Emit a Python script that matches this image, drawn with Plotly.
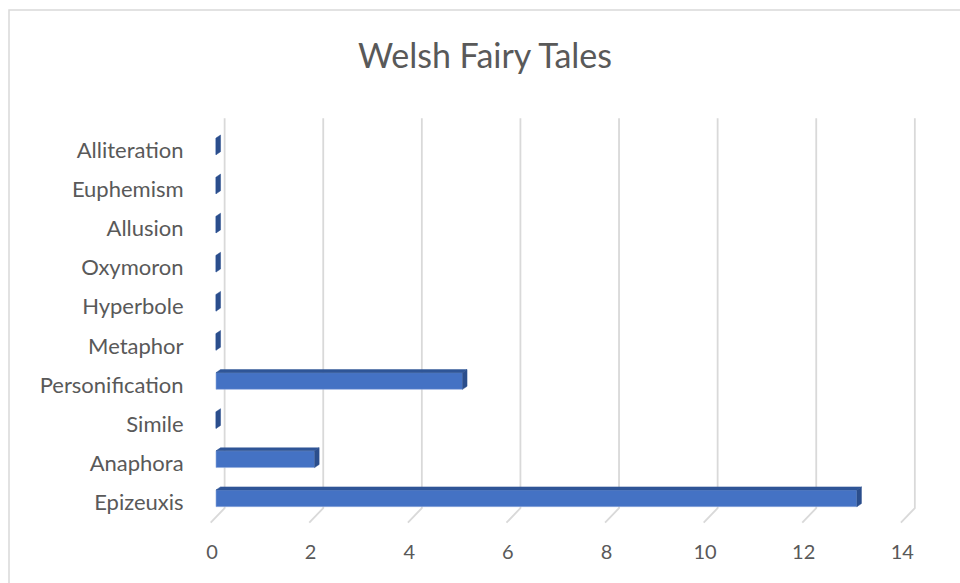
import plotly.graph_objects as go

# ---- data ----
categories = ["Epizeuxis", "Anaphora", "Simile", "Personification", "Metaphor",
              "Hyperbole", "Oxymoron", "Allusion", "Euphemism", "Alliteration"]
values = [13, 2, 0, 5, 0, 0, 0, 0, 0, 0]
x_ticks = [0, 2, 4, 6, 8, 10, 12, 14]
title_text = "Welsh Fairy Tales"

# ---- style / geometry ----
FRONT = "#4472C4"
TOP = "#2F5597"
SIDE = "#2B4E8C"
GRID = "#D9D9D9"
TEXT = "#595959"
FONT = "Lato, 'Open Sans', sans-serif"

bar_w = 0.427      # bar thickness in category units
ddx = 0.092        # depth offset along value axis
ddy = 0.078        # depth offset along category axis
back_off = 0.175   # back-wall gridline offset
front_off = -0.108 # front edge of floor
grid_top = 9.72
grid_bot = -0.25
floor_front = -0.625

ypos = list(range(len(categories)))

fig = go.Figure()

# front faces
fig.add_trace(go.Bar(x=values, y=ypos, orientation="h", width=bar_w, base=0,
                     marker=dict(color=FRONT, line=dict(color="#8FAADC", width=0.6)),
                     hoverinfo="skip", showlegend=False))

# top faces
tx, ty = [], []
for v, i in zip(values, ypos):
    if v > 0:
        yt = i + bar_w / 2
        tx += [0, v, v + ddx, ddx, 0, None]
        ty += [yt, yt, yt + ddy, yt + ddy, yt, None]
fig.add_trace(go.Scatter(x=tx, y=ty, mode="lines", fill="toself",
                         fillcolor=TOP, line=dict(color=TOP, width=0.5),
                         hoverinfo="skip", showlegend=False))

# side faces
sx, sy = [], []
for v, i in zip(values, ypos):
    yb = i - bar_w / 2
    yt = i + bar_w / 2
    sx += [v, v, v + ddx, v + ddx, v, None]
    sy += [yb, yt, yt + ddy, yb + ddy, yb, None]
fig.add_trace(go.Scatter(x=sx, y=sy, mode="lines", fill="toself",
                         fillcolor=SIDE, line=dict(color=SIDE, width=0.5),
                         hoverinfo="skip", showlegend=False))

# gridlines (back wall + floor diagonals) as shapes below the data
shapes = []
for t in x_ticks:
    path = (f"M {t + back_off},{grid_top} L {t + back_off},{grid_bot} "
            f"L {t + front_off},{floor_front}")
    shapes.append(dict(type="path", xref="x", yref="y", path=path,
                       line=dict(color=GRID, width=1.8), layer="below"))

# plot area geometry (pixels)
L, R, T, B = 195, 935, 100, 530
W, H = 960, 583
x0px, xscale = 216, 49.3
y0px, yscale = 498.3, 39.1
xr = [(L - x0px) / xscale, (R - x0px) / xscale]
yr = [(y0px - B) / yscale, (y0px - T) / yscale]

shapes.append(dict(type="rect", xref="paper", yref="paper",
                   x0=(9 - L) / (R - L), x1=(1000 - L) / (R - L),
                   y0=(B - 620) / (B - T), y1=(B - 10) / (B - T),
                   line=dict(color=GRID, width=1.5), fillcolor="rgba(0,0,0,0)",
                   layer="below"))

fig.update_layout(
    width=W, height=H,
    margin=dict(l=L, r=W - R, t=T, b=H - B),
    paper_bgcolor="white", plot_bgcolor="white",
    font=dict(family=FONT, color=TEXT),
    title=dict(text=title_text, x=(485 - L) / (R - L), xref="paper", xanchor="center",
               y=1 - 56 / H, yanchor="middle",
               font=dict(size=34, color=TEXT, family=FONT)),
    xaxis=dict(range=xr, showgrid=False, zeroline=False, showline=False,
               tickvals=[t - 0.08 for t in x_ticks], ticktext=[str(t) for t in x_ticks],
               ticks="outside", ticklen=4, tickcolor="rgba(0,0,0,0)",
               tickfont=dict(size=20, color=TEXT, family=FONT), fixedrange=True),
    yaxis=dict(range=yr, showgrid=False, zeroline=False, showline=False,
               tickvals=[i - 0.1 for i in ypos], ticktext=categories,
               ticks="outside", ticklen=6, tickcolor="rgba(0,0,0,0)",
               tickfont=dict(size=22, color=TEXT, family=FONT), fixedrange=True),
    shapes=shapes,
)

fig.write_html("out.html", config={"displayModeBar": False})
